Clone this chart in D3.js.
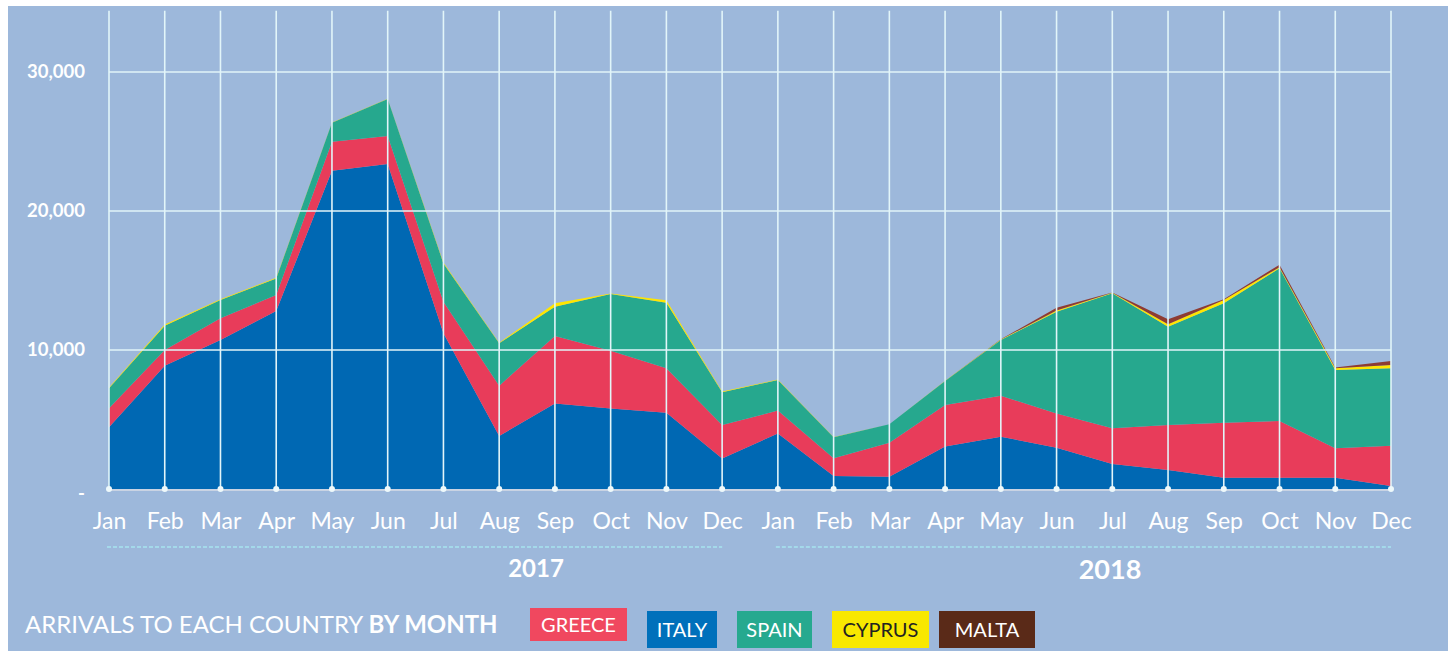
<!DOCTYPE html>
<html>
<head>
<meta charset="utf-8">
<script src="https://cdn.jsdelivr.net/npm/d3@7"></script>
<style>
  body { margin: 0; background: #fff; }
  svg { display: block; font-family: Lato, "Open Sans", sans-serif; }
</style>
</head>
<body>
<script>
// months across two years
const months = ['Jan', 'Feb', 'Mar', 'Apr', 'May', 'Jun', 'Jul', 'Aug', 'Sep', 'Oct', 'Nov', 'Dec',
  'Jan', 'Feb', 'Mar', 'Apr', 'May', 'Jun', 'Jul', 'Aug', 'Sep', 'Oct', 'Nov', 'Dec'];
const years = ['2017', '2018'];

const italy = [4440, 8870, 10720, 12800, 22900, 23380, 11200, 3810, 6160, 5800, 5490, 2200,
  4000, 940, 890, 3050, 3760, 2970, 1800, 1370, 810, 810, 810, 220];
const greece = [1370, 1130, 1560, 1150, 2090, 2010, 2270, 3620, 4840, 4150, 3190, 2400,
  1640, 1270, 2440, 2990, 2950, 2470, 2570, 3230, 3960, 4080, 2120, 2900];
const spain = [1440, 1750, 1320, 1200, 1360, 2660, 2760, 3050, 2120, 4080, 4720, 2360,
  2200, 1510, 1320, 1730, 4010, 7320, 9710, 7080, 8590, 10990, 5630, 5560];
const cyprus = [60, 80, 60, 40, 20, 30, 60, 40, 240, 40, 180, 60,
  30, 20, 10, 20, 30, 80, 30, 170, 240, 80, 120, 240];
const malta = [0, 0, 0, 0, 0, 0, 0, 0, 0, 0, 0, 0,
  0, 0, 0, 0, 20, 200, 20, 360, 50, 180, 70, 290];

const yTicks = [0, 10000, 20000, 30000];

const w = 1452;
const h = 651;

// stack order: italy at the bottom
const keys = ['italy', 'greece', 'spain', 'cyprus', 'malta'];
const series = {italy, greece, spain, cyprus, malta};
const areaColors = {italy: '#0068b3', greece: '#e83c5a', spain: '#26a88e', cyprus: '#ffe600', malta: '#8e3b32'};

const legendItems = [
  {label: 'GREECE', fill: '#f0485f', text: '#fff', x: 530, y: 608, w: 97, h: 33},
  {label: 'ITALY', fill: '#0070bb', text: '#fff', x: 647, y: 611, w: 70, h: 37},
  {label: 'SPAIN', fill: '#26a98f', text: '#fff', x: 737, y: 611, w: 75, h: 37},
  {label: 'CYPRUS', fill: '#f8e800', text: '#222', x: 832, y: 611, w: 97, h: 37},
  {label: 'MALTA', fill: '#5a2a18', text: '#fff', x: 939, y: 611, w: 96, h: 37}
];

const rows = months.map((m, i) => {
  const r = {i};
  keys.forEach(k => { r[k] = series[k][i]; });
  return r;
});

const svg = d3.select('body').append('svg')
  .attr('width', w)
  .attr('height', h);

// panel background
svg.append('rect')
  .attr('x', 8).attr('y', 6)
  .attr('width', 1440).attr('height', 645)
  .attr('fill', '#9db8db');

const xScale = d3.scalePoint()
  .domain(d3.range(months.length))
  .range([109, 1391]);

const yScale = d3.scaleLinear()
  .domain([0, 30000])
  .range([489, 72]);

const stacked = d3.stack().keys(keys)(rows);

const area = d3.area()
  .x(d => xScale(d.data.i))
  .y0(d => yScale(d[0]))
  .y1(d => yScale(d[1]));

svg.append('g')
  .selectAll('path')
  .data(stacked)
  .enter()
  .append('path')
  .attr('d', area)
  .attr('fill', d => areaColors[d.key]);

//grid lines
const grid = svg.append('g').attr('stroke', '#e2f5f9').attr('stroke-width', 1.6);
grid.selectAll('.vline')
  .data(d3.range(months.length))
  .enter()
  .append('line')
  .attr('x1', d => xScale(d)).attr('x2', d => xScale(d))
  .attr('y1', yScale(34400)).attr('y2', yScale(0));
grid.selectAll('.hline')
  .data(yTicks.slice(1))
  .enter()
  .append('line')
  .attr('x1', xScale(0)).attr('x2', xScale(months.length - 1))
  .attr('y1', d => yScale(d)).attr('y2', d => yScale(d));

// baseline and dots
svg.append('line')
  .attr('x1', xScale(0)).attr('x2', xScale(months.length - 1))
  .attr('y1', yScale(0) + 1).attr('y2', yScale(0) + 1)
  .attr('stroke', '#d8dde6').attr('stroke-width', 1.5);
svg.append('g')
  .selectAll('circle')
  .data(d3.range(months.length))
  .enter()
  .append('circle')
  .attr('cx', d => xScale(d))
  .attr('cy', yScale(0))
  .attr('r', 3)
  .attr('fill', '#eef9fb');

// y axis
const yAxis = d3.axisLeft(yScale)
  .tickValues(yTicks)
  .tickSize(0)
  .tickPadding(0)
  .tickFormat(d => d === 0 ? '-' : d3.format(',')(d));
const yg = svg.append('g')
  .attr('transform', 'translate(85, 0)')
  .call(yAxis);
yg.select('.domain').remove();
yg.selectAll('text')
  .attr('fill', '#fff')
  .style('font-family', 'Lato, sans-serif')
  .style('font-size', '18.5px')
  .style('font-weight', 'bold');
yg.selectAll('.tick').filter(d => d === 0).select('text').attr('dy', '0.55em');

// x axis
const xAxis = d3.axisBottom(xScale)
  .tickSize(0)
  .tickPadding(0)
  .tickFormat(i => months[i]);
const xg = svg.append('g')
  .attr('transform', 'translate(0, 513)')
  .call(xAxis);
xg.select('.domain').remove();
xg.selectAll('text')
  .attr('fill', '#fff')
  .style('font-family', 'Lato, sans-serif')
  .style('font-size', '23px');

// year labels with dashed lines
const yearSpans = [[0, 11], [12, 23]];
years.forEach((yr, k) => {
  const x0 = xScale(yearSpans[k][0]) - 2;
  const x1 = xScale(yearSpans[k][1]);
  svg.append('line')
    .attr('x1', x0).attr('x2', x1)
    .attr('y1', 547).attr('y2', 547)
    .attr('stroke', '#a6e4ef')
    .attr('stroke-width', 1.5)
    .attr('stroke-dasharray', '4,2');
  svg.append('text')
    .attr('x', k === 0 ? 536 : 1110)
    .attr('y', k === 0 ? 577 : 579)
    .attr('text-anchor', 'middle')
    .attr('fill', '#fff')
    .style('font-size', k === 0 ? '24px' : '27px')
    .style('font-weight', 'bold')
    .text(yr);
});

// legend title
const title = svg.append('text')
  .attr('x', 25).attr('y', 633)
  .attr('fill', '#fff')
  .style('font-size', '24px');
title.append('tspan').text('ARRIVALS TO EACH COUNTRY ');
title.append('tspan').style('font-weight', 'bold').text('BY MONTH');

const lg = svg.append('g')
  .selectAll('g')
  .data(legendItems)
  .enter()
  .append('g');
lg.append('rect')
  .attr('x', d => d.x).attr('y', d => d.y)
  .attr('width', d => d.w).attr('height', d => d.h)
  .attr('fill', d => d.fill);
lg.append('text')
  .attr('x', d => d.x + d.w / 2)
  .attr('y', d => d.y + d.h / 2)
  .attr('dy', '0.35em')
  .attr('text-anchor', 'middle')
  .attr('fill', d => d.text)
  .style('font-size', '20px')
  .text(d => d.label);
</script>
</body>
</html>
